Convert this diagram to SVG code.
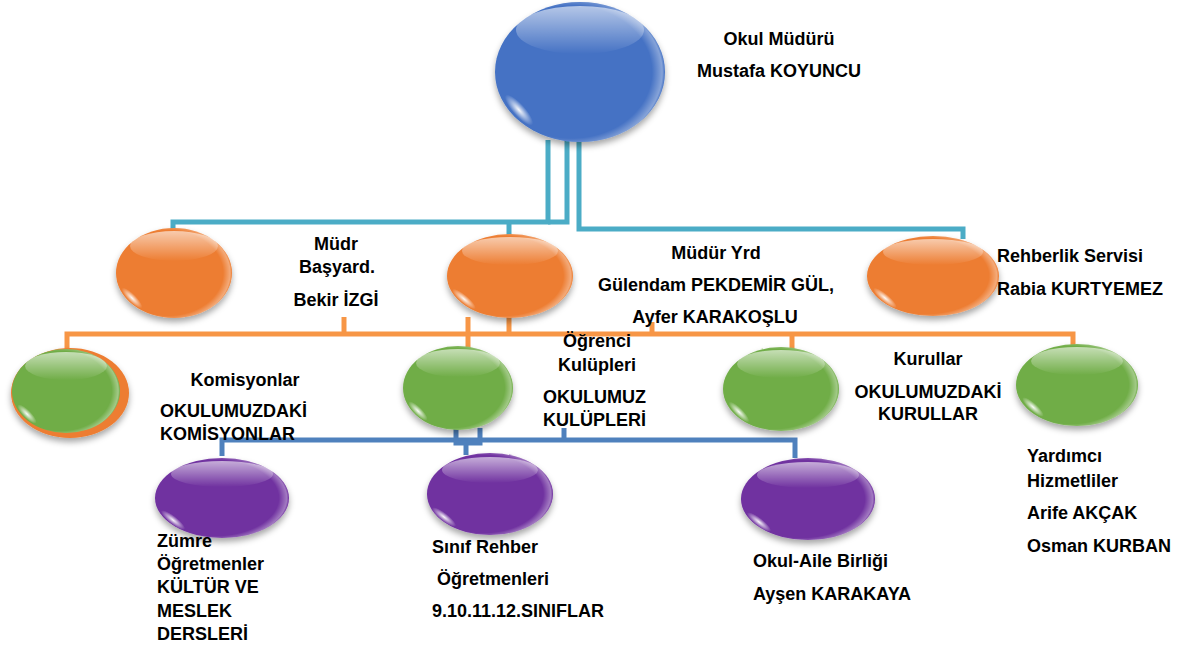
<svg xmlns="http://www.w3.org/2000/svg" width="1182" height="649" viewBox="0 0 1182 649">
<style>
.blue{fill:#4472C4}
.orange{fill:#ED7D31}
.green{fill:#70AD47}
.purple{fill:#7030A0}
.hl{fill:url(#hl)}
.spot{fill:url(#spot)}
.rim{fill:url(#rim)}
.base{filter:url(#sh)}
text{font-family:"Liberation Sans",Arial,sans-serif;font-weight:bold;font-size:18px;fill:#000}
.c{text-anchor:middle}
.teal{stroke:#4BACC6}
.ol{stroke:#F79646}
.bl{stroke:#4F81BD}
#connectors path{fill:none;stroke-width:5}
</style>
<defs>
<filter id="sh" x="-20%" y="-20%" width="140%" height="150%">
<feDropShadow dx="0" dy="4" stdDeviation="3" flood-color="#000" flood-opacity="0.35"/>
</filter>
<linearGradient id="hl" x1="0" y1="0" x2="0" y2="1">
<stop offset="0" stop-color="#fff" stop-opacity="0.6"/>
<stop offset="1" stop-color="#fff" stop-opacity="0"/>
</linearGradient>
<radialGradient id="spot">
<stop offset="0" stop-color="#fff" stop-opacity="0.95"/>
<stop offset="1" stop-color="#fff" stop-opacity="0"/>
</radialGradient>
<radialGradient id="rim" cx="0.45" cy="0.5" r="0.55">
<stop offset="0.86" stop-color="#fff" stop-opacity="0"/>
<stop offset="0.97" stop-color="#fff" stop-opacity="0.35"/>
<stop offset="1" stop-color="#fff" stop-opacity="0"/>
</radialGradient>
</defs>
<rect width="1182" height="649" fill="#fff"/>

<g id="connectors">
<path class="teal" d="M548,140 V222 H173 V231"/>
<path class="teal" d="M567,140 V222 H548"/>
<path class="teal" d="M509,222 V236"/>
<path class="teal" d="M579,140 V229 H963 V239"/>
<path class="ol" d="M67,351 V334 H1073 V345"/>
<path class="ol" d="M344,317 V334"/>
<path class="ol" d="M468,317 V348"/>
<path class="ol" d="M509,317 V334"/>
<path class="ol" d="M652,322 V334"/>
<path class="ol" d="M792,334 V349"/>
<path class="bl" d="M222,456 V440 H795 V458"/>
<path class="bl" d="M456,428 V443 H480 V428"/>
<path class="bl" d="M466,443 V455"/>
<path class="bl" d="M564,428 V440"/>
</g>

<g id="mudur">
<ellipse class="blue base" cx="580" cy="72" rx="85" ry="70"/>
<ellipse class="rim" cx="580" cy="72" rx="85" ry="70"/>
<ellipse class="hl" cx="580" cy="30" rx="64" ry="24"/>
<ellipse class="spot" cx="519" cy="110" rx="20" ry="6" transform="rotate(48 519 110)"/>
<text class="c" x="779" y="45">Okul Müdürü</text>
<text class="c" x="779" y="77">Mustafa KOYUNCU</text>
</g>

<g id="basyard">
<ellipse class="orange base" cx="174" cy="273" rx="58" ry="45"/>
<ellipse class="rim" cx="174" cy="273" rx="58" ry="45"/>
<ellipse class="hl" cx="174" cy="246" rx="44" ry="15"/>
<ellipse class="spot" cx="132" cy="298" rx="14" ry="4" transform="rotate(45 132 298)"/>
<text class="c" x="336" y="250">Müdr</text>
<text class="c" x="337" y="273">Başyard.</text>
<text class="c" x="336" y="306">Bekir İZGİ</text>
</g>

<g id="mudur-yrd">
<ellipse class="orange base" cx="510" cy="276" rx="63" ry="42"/>
<ellipse class="rim" cx="510" cy="276" rx="63" ry="42"/>
<ellipse class="hl" cx="510" cy="251" rx="48" ry="14"/>
<ellipse class="spot" cx="464" cy="299" rx="15" ry="4" transform="rotate(40 464 299)"/>
<text class="c" x="716" y="259">Müdür Yrd</text>
<text class="c" x="716" y="291">Gülendam PEKDEMİR GÜL,</text>
<text class="c" x="715" y="323">Ayfer KARAKOŞLU</text>
</g>

<g id="rehberlik">
<ellipse class="orange base" cx="933" cy="276" rx="66" ry="40"/>
<ellipse class="rim" cx="933" cy="276" rx="66" ry="40"/>
<ellipse class="hl" cx="933" cy="252" rx="50" ry="13"/>
<ellipse class="spot" cx="885" cy="298" rx="15" ry="4" transform="rotate(40 885 298)"/>
<text x="997" y="262">Rehberlik Servisi</text>
<text x="997" y="295">Rabia KURTYEMEZ</text>
</g>

<g id="komisyonlar">
<ellipse class="orange base" cx="70" cy="393" rx="59" ry="45"/>
<ellipse class="green" cx="66" cy="391" rx="54" ry="42"/>
<ellipse class="rim" cx="66" cy="391" rx="54" ry="42"/>
<ellipse class="hl" cx="66" cy="366" rx="41" ry="14"/>
<ellipse class="spot" cx="27" cy="414" rx="13" ry="4" transform="rotate(45 27 414)"/>
<text class="c" x="245" y="386">Komisyonlar</text>
<text x="160" y="417">OKULUMUZDAKİ</text>
<text x="160" y="440">KOMİSYONLAR</text>
</g>

<g id="kulupler">
<ellipse class="green base" cx="458" cy="388" rx="55" ry="42"/>
<ellipse class="rim" cx="458" cy="388" rx="55" ry="42"/>
<ellipse class="hl" cx="458" cy="363" rx="42" ry="14"/>
<ellipse class="spot" cx="418" cy="411" rx="13" ry="4" transform="rotate(45 418 411)"/>
<text class="c" x="597" y="347">Öğrenci</text>
<text class="c" x="597" y="371">Kulüpleri</text>
<text x="543" y="403">OKULUMUZ</text>
<text x="543" y="426">KULÜPLERİ</text>
</g>

<g id="kurullar">
<ellipse class="green base" cx="781" cy="389" rx="58" ry="42"/>
<ellipse class="rim" cx="781" cy="389" rx="58" ry="42"/>
<ellipse class="hl" cx="781" cy="364" rx="44" ry="14"/>
<ellipse class="spot" cx="739" cy="412" rx="14" ry="4" transform="rotate(45 739 412)"/>
<text class="c" x="928" y="365">Kurullar</text>
<text class="c" x="928" y="398">OKULUMUZDAKİ</text>
<text class="c" x="928" y="420">KURULLAR</text>
</g>

<g id="yardimci">
<ellipse class="green base" cx="1077" cy="385" rx="61" ry="41"/>
<ellipse class="rim" cx="1077" cy="385" rx="61" ry="41"/>
<ellipse class="hl" cx="1077" cy="361" rx="46" ry="14"/>
<ellipse class="spot" cx="1033" cy="407" rx="14" ry="4" transform="rotate(42 1033 407)"/>
<text x="1027" y="462">Yardımcı</text>
<text x="1027" y="487">Hizmetliler</text>
<text x="1027" y="519">Arife AKÇAK</text>
<text x="1027" y="552">Osman KURBAN</text>
</g>

<g id="zumre">
<ellipse class="purple base" cx="222" cy="498" rx="67" ry="40"/>
<ellipse class="rim" cx="222" cy="498" rx="67" ry="40"/>
<ellipse class="hl" cx="222" cy="474" rx="51" ry="13"/>
<ellipse class="spot" cx="173" cy="520" rx="15" ry="4" transform="rotate(38 173 520)"/>
<text x="157" y="547">Zümre</text>
<text x="157" y="570">Öğretmenler</text>
<text x="157" y="593">KÜLTÜR VE</text>
<text x="157" y="617">MESLEK</text>
<text x="157" y="640">DERSLERİ</text>
</g>

<g id="sinif-rehber">
<ellipse class="purple base" cx="490" cy="494" rx="63" ry="41"/>
<ellipse class="rim" cx="490" cy="494" rx="63" ry="41"/>
<ellipse class="hl" cx="490" cy="470" rx="48" ry="13"/>
<ellipse class="spot" cx="444" cy="517" rx="15" ry="4" transform="rotate(38 444 517)"/>
<text x="432" y="553">Sınıf Rehber</text>
<text x="437" y="585">Öğretmenleri</text>
<text x="432" y="617">9.10.11.12.SINIFLAR</text>
</g>

<g id="okul-aile">
<ellipse class="purple base" cx="808" cy="499" rx="67" ry="41"/>
<ellipse class="rim" cx="808" cy="499" rx="67" ry="41"/>
<ellipse class="hl" cx="808" cy="475" rx="51" ry="13"/>
<ellipse class="spot" cx="759" cy="522" rx="15" ry="4" transform="rotate(38 759 522)"/>
<text x="753" y="567">Okul-Aile Birliği</text>
<text x="753" y="600">Ayşen KARAKAYA</text>
</g>
</svg>
